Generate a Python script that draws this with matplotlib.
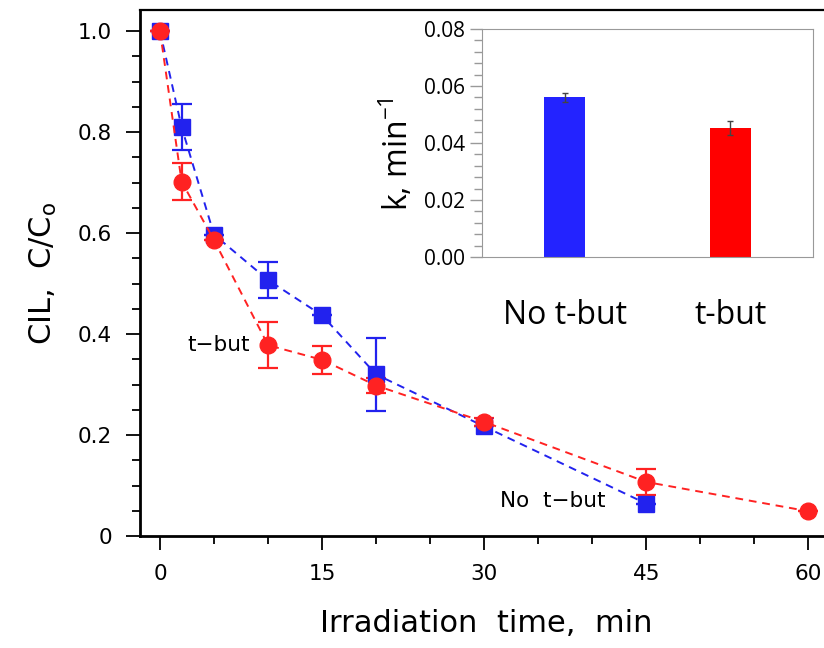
import numpy as np
import matplotlib.pyplot as plt

# main panel data
t_no = [0, 2, 5, 10, 15, 20, 30, 45]
c_no = [1.0, 0.81, 0.597, 0.507, 0.437, 0.320, 0.217, 0.064]
e_no = [0.0, 0.046, 0.0, 0.035, 0.0, 0.073, 0.0, 0.0]

t_tb = [0, 2, 5, 10, 15, 20, 30, 45, 60]
c_tb = [1.0, 0.702, 0.586, 0.378, 0.349, 0.298, 0.226, 0.107, 0.049]
e_tb = [0.0, 0.037, 0.0, 0.046, 0.028, 0.015, 0.008, 0.026, 0.0]

# inset data
cats = ['No t-but', 't-but']
k_vals = [0.0561, 0.0452]
k_err = [0.0016, 0.0024]
bar_colors = ['#2323ff', '#ff0000']

blue = '#2222ee'
red = '#ff2222'

fig = plt.figure(figsize=(8.24, 6.48), dpi=100)
ax = fig.add_axes([140/824, 1-536/648, 1.0 - 140/824 + 0.01, (536-10)/648])

ax.errorbar(t_no, c_no, yerr=e_no, color=blue, ls=(0, (4, 3)), lw=1.4,
            marker='s', ms=12, capsize=7, elinewidth=1.6, capthick=1.6)
ax.errorbar(t_tb, c_tb, yerr=e_tb, color=red, ls=(0, (4, 3)), lw=1.4,
            marker='o', ms=12, capsize=7, elinewidth=1.6, capthick=1.6)

ax.set_xlim(-1.85, 62.2)
ax.set_ylim(0, 1.042)
ax.set_xticks([0, 15, 30, 45, 60])
ax.set_xticks(np.arange(0, 61, 5), minor=True)
ax.set_yticks([0, 0.2, 0.4, 0.6, 0.8, 1.0])
ax.set_yticklabels(['0', '0.2', '0.4', '0.6', '0.8', '1.0'])
ax.set_yticks(np.arange(0, 1.01, 0.05), minor=True)
ax.tick_params(which='major', length=10, width=1.3, labelsize=15.5, pad=10)
ax.tick_params(which='minor', length=6, width=1.3)
ax.spines['right'].set_visible(False)
for s in ['left', 'bottom']:
    ax.spines[s].set_linewidth(2)
ax.spines['top'].set_linewidth(1.6)

ax.set_xlabel('Irradiation  time,  min', fontsize=22, labelpad=18)
ax.set_ylabel('CIL,  C/C$_\\mathregular{o}$', fontsize=22, labelpad=14)

ax.text(8.3, 0.378, 't\u2212but', fontsize=15.5, ha='right', va='center')
ax.text(41.2, 0.07, 'No  t\u2212but', fontsize=15.5, ha='right', va='center')

# inset
ins = fig.add_axes([482/824, 1-257/648, (813-482)/824, (257-29)/648])
ins.bar([0, 1], k_vals, width=0.25, color=bar_colors, yerr=k_err,
        error_kw=dict(ecolor='#444444', elinewidth=1, capsize=2.5, capthick=1))
ins.set_xlim(-0.5, 1.5)
ins.set_ylim(0, 0.08)
ins.set_xticks([0, 1])
ins.set_xticklabels(cats, fontsize=23, family='Open Sans')
ins.set_yticks([0, 0.02, 0.04, 0.06, 0.08])
ins.set_yticklabels(['0.00', '0.02', '0.04', '0.06', '0.08'], fontsize=15, family='Open Sans')
ins.set_yticks(np.arange(0, 0.0801, 0.004), minor=True)
ins.tick_params(axis='x', length=0, pad=30)
ins.tick_params(axis='y', which='major', color='#999999', length=9, width=1)
ins.tick_params(axis='y', which='minor', color='#999999', length=6, width=1)
for s in ins.spines.values():
    s.set_color('#999999')
ins.set_ylabel('k, min$^{\\mathregular{-1}}$', fontsize=23, family='Open Sans')
ins.yaxis.set_label_coords(-0.2, 0.45)

fig.savefig('out.png', dpi=100)
